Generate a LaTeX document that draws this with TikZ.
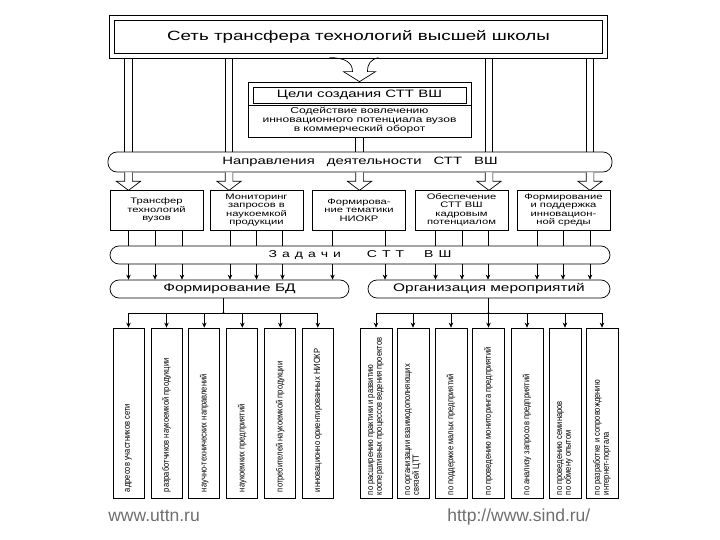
\documentclass[tikz,border=0pt]{standalone}
\usepackage{fontspec}
\setmainfont{Liberation Sans}
\newfontfamily\wf[FakeStretch=1.4]{Liberation Sans}
\newfontfamily\nf[FakeStretch=0.84]{Liberation Sans}
\usetikzlibrary{arrows.meta,calc}
\definecolor{urlgray}{RGB}{110,110,110}
\begin{document}
\begin{tikzpicture}[x=1pt,y=-1pt, line width=0.7pt,
  band/.style={draw, rounded corners=9pt, inner sep=0pt, fill=white},
  dbox/.style={draw, fill=white, minimum width=93pt, minimum height=40pt, inner sep=0pt, align=center, font=\wf\fontsize{8}{8.4}\selectfont},
  lbox/.style={draw, minimum width=31pt, minimum height=170pt, inner sep=0pt},
  rbox/.style={draw, minimum width=32pt, minimum height=170pt, inner sep=0pt},
  vtext/.style={rotate=90, anchor=west, align=left, inner sep=0pt, font=\nf\fontsize{9}{8.8}\selectfont},
  arr/.style={-{Stealth[length=5pt,width=4.5pt]}},
  url/.style={anchor=base west, text=urlgray, inner sep=0pt, font=\fontsize{17.5}{20}\selectfont}
]
\useasboundingbox (0,0) rectangle (720,540);

% title
\node[draw, double, double distance=3.4pt, line width=0.9pt, minimum width=493pt, minimum height=38pt, inner sep=0pt,
      font=\wf\fontsize{13.4}{16}\selectfont] (t) at (358.5,37) {Сеть трансфера технологий высшей школы};

% goals box
\node[draw, fill=white, minimum width=223pt, minimum height=55pt, inner sep=0pt] (g) at (359.5,109.5) {};
\node[draw, minimum width=213pt, minimum height=16pt, inner sep=0pt, font=\wf\fontsize{10.7}{13}\selectfont] (gt) at (359.5,95) {Цели создания СТТ ВШ};
\draw ($(g.north west)+(0,24)$) -- ($(g.north east)+(0,24)$);
\node[align=center, inner sep=0pt, font=\wf\fontsize{8.6}{9}\selectfont] (gs) at (359.5,120.5) {Содействие вовлечению\\инновационного потенциала вузов\\в коммерческий оборот};

% curly arrow
\draw[shift={(g.north)}] (-30,-24) .. controls (-14,-24) and (-7,-19) .. (-7,-10) -- (-16,-10) -- (0,0) -- (16,-10) -- (8,-10) .. controls (8,-18) and (11,-22) .. (19,-24);

% directions band
\node[band, minimum width=504pt, minimum height=20pt, font=\wf\fontsize{10.6}{13}\selectfont] (d) at (360,162)
  {Направления\hspace{8pt} деятельности\hspace{8pt} СТТ\hspace{8pt} ВШ};

% five boxes
\node[dbox] (b1) at (156.5,210) {Трансфер\\технологий\\вузов};
\node[dbox] (b2) at (256.5,210) {Мониторинг\\запросов в\\наукоемкой\\продукции};
\node[dbox] (b3) at (359,210) {Формирова-\\ние тематики\\НИОКР};
\node[dbox] (b4) at (461.5,210) {Обеспечение\\СТТ ВШ\\кадровым\\потенциалом};
\node[dbox] (b5) at (563.5,210) {Формирование\\и поддержка\\инновацион-\\ной среды};

% tasks band
\node[band, minimum width=500pt, minimum height=18pt, font=\wf\fontsize{10}{12}\selectfont] (z) at (360,255)
  {З\hspace{5pt}а\hspace{5pt}д\hspace{5pt}а\hspace{5pt}ч\hspace{5pt}и\hspace{26pt}С\hspace{5pt}Т\hspace{5pt}Т\hspace{20pt}В\hspace{5pt}Ш};

% lower bands
\node[band, minimum width=239pt, minimum height=18pt, font=\wf\fontsize{11}{13}\selectfont] (fb) at (229.5,289) {Формирование БД};
\node[band, minimum width=242pt, minimum height=18pt, font=\wf\fontsize{11}{13}\selectfont] (om) at (489,289) {Организация мероприятий};

% bottom boxes
\node[lbox] (L1) at (128.5,413) {};
\node[lbox] (L2) at (166.5,413) {};
\node[lbox] (L3) at (204.3,413) {};
\node[lbox] (L4) at (242.3,413) {};
\node[lbox] (L5) at (280.3,413) {};
\node[lbox] (L6) at (317.8,413) {};
\node[rbox] (R1) at (376,413) {};
\node[rbox] (R2) at (413,413) {};
\node[rbox] (R3) at (451,413) {};
\node[rbox] (R4) at (488.5,413) {};
\node[rbox] (R5) at (527,413) {};
\node[rbox] (R6) at (565,413) {};
\node[rbox] (R7) at (602,413) {};

\node[vtext] (L1t) at ($(L1.south)+(0,-6)$) {адресов участников сети};
\node[vtext] (L2t) at ($(L2.south)+(0,-6)$) {разработчиков наукоемкой продукции};
\node[vtext] (L3t) at ($(L3.south)+(0,-6)$) {научно-технических направлений};
\node[vtext] (L4t) at ($(L4.south)+(0,-6)$) {наукоемких предприятий};
\node[vtext] (L5t) at ($(L5.south)+(0,-6)$) {потребителей наукоемкой продукции};
\node[vtext] (L6t) at ($(L6.south)+(0,-6)$) {инновационно ориентированных НИОКР};
\node[vtext] (R1t) at ($(R1.south)+(0,-3)$) {по расширению практики и развитию\\кооперативных процессов ведения проектов};
\node[vtext] (R2t) at ($(R2.south)+(0,-3)$) {по организации взаимодополняющих\\связей ЦТТ};
\node[vtext] (R3t) at ($(R3.south)+(0,-3)$) {по поддержке малых предприятий};
\node[vtext] (R4t) at ($(R4.south)+(0,-3)$) {по проведению мониторинга предприятий};
\node[vtext] (R5t) at ($(R5.south)+(0,-3)$) {по анализу запросов предприятий};
\node[vtext] (R6t) at ($(R6.south)+(0,-3)$) {по проведению семинаров\\по обмену опытом};
\node[vtext] (R7t) at ($(R7.south)+(0,-3)$) {по разработке и сопровождению\\интернет-портала};

% urls
\node[url] (u1) at (108,521) {www.uttn.ru};
\node[url] (u2) at (447,521) {http://www.sind.ru/};

% heads of the hollow arrows (directions band -> boxes)
\foreach \x in {128.5, 229, 359.5, 489, 590} {
  \coordinate (X) at (\x,0);
  \draw[fill=white, shift={(X |- d.south)}] (-3.85,0) -- (-3.85,9) -- (-12,9) -- (0,18) -- (12,9) -- (3.85,9) -- (3.85,0);
}

% task lines
\foreach \x/\bx/\f in {128.5/b1/fb, 155/b1/fb, 182/b1/fb, 230/b2/fb, 256.5/b2/fb, 282.5/b2/fb, 332.5/b3/fb,
                      385/b3/om, 435.5/b4/om, 462/b4/om, 488/b4/om, 537/b5/om, 563/b5/om, 590/b5/om} {
  \coordinate (X) at (\x,0);
  \draw (X |- \bx.south) -- (X |- z.north);
  \draw[arr] (X |- z.south) -- (X |- \f.north);
}

% distribution
\coordinate (jl) at (223.5,313);
\coordinate (jr) at (488.5,313);
\draw (fb.south -| jl) -- (jl);
\draw (om.south -| jr) -- (jr);
\draw (jl -| L1) -- (jl -| L6);
\draw (jr -| R1) -- (jr -| R7);
\foreach \n in {L1,L2,L3,L4,L5,L6,R1,R2,R3,R4,R5,R6,R7} {
  \draw[arr] (jl -| \n) -- (\n.north);
}
\fill (jl) circle (1.2pt);
\fill (jr) circle (1.2pt);

% shafts of the hollow arrows (title -> directions band), as thin filled strips
\fill[black] (124.25,58.4) rectangle (125.05,152);
\fill[black] (131.95,58.4) rectangle (132.75,152);
\fill[black] (224.75,58.4) rectangle (225.55,152);
\fill[black] (232.45,58.4) rectangle (233.25,152);
\fill[black] (484.75,58.4) rectangle (485.55,152);
\fill[black] (492.45,58.4) rectangle (493.25,152);
\fill[black] (585.75,58.4) rectangle (586.55,152);
\fill[black] (593.45,58.4) rectangle (594.25,152);
\fill[black] (355.25,137) rectangle (356.05,152);
\fill[black] (362.95,137) rectangle (363.75,152);
\end{tikzpicture}
\end{document}
